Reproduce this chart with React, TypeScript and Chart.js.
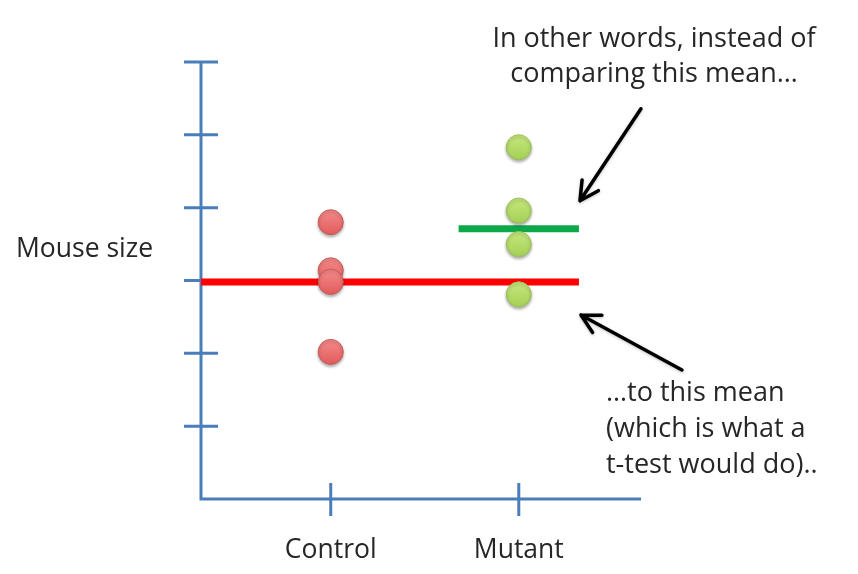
import React, { useEffect, useRef } from "react";
import { Chart, registerables } from "chart.js";

Chart.register(...registerables);

const categories = ["Control", "Mutant"];
const controlValues = [3.8, 3.14, 2.98, 2.02];
const mutantValues = [4.83, 3.96, 3.5, 2.81];
const controlMean = 2.98;
const mutantMean = 3.71;
const yTicks = [1, 2, 3, 4, 5, 6];
const yAxisTitle = "Mouse size";
const topNote = ["In other words, instead of", "comparing this mean…"];
const bottomNote = ["…to this mean", "(which is what a", "t-test would do).."];

const X_MIN = 0.31;
const X_MAX = 2.65;
const MEAN_HALF = 0.32;
const AXIS_COLOR = "#4a7ebb";
const TEXT_COLOR = "#262626";
const FONT = "'Open Sans', sans-serif";

function drawArrow(ctx: CanvasRenderingContext2D, x1: number, y1: number, x2: number, y2: number) {
  const ang = Math.atan2(y2 - y1, x2 - x1);
  const head = 21;
  const spread = Math.PI / 6.5;
  ctx.save();
  ctx.strokeStyle = "#000";
  ctx.lineWidth = 3.5;
  ctx.lineCap = "round";
  ctx.lineJoin = "round";
  ctx.shadowColor = "rgba(0,0,0,0.25)";
  ctx.shadowBlur = 3;
  ctx.shadowOffsetY = 1;
  ctx.beginPath();
  ctx.moveTo(x1, y1);
  ctx.lineTo(x2, y2);
  ctx.moveTo(x2 - head * Math.cos(ang - spread), y2 - head * Math.sin(ang - spread));
  ctx.lineTo(x2, y2);
  ctx.lineTo(x2 - head * Math.cos(ang + spread), y2 - head * Math.sin(ang + spread));
  ctx.stroke();
  ctx.restore();
}

function pointFill(top: string, bottom: string) {
  return (c: any) => {
    const el = c.element;
    const ctx = c.chart.ctx as CanvasRenderingContext2D;
    if (!el || el.y == null || isNaN(el.y)) return bottom;
    const g = ctx.createLinearGradient(0, el.y - 12, 0, el.y + 12);
    g.addColorStop(0, top);
    g.addColorStop(1, bottom);
    return g;
  };
}

const decorPlugin = {
  id: "decor",
  beforeDatasetsDraw(chart: any) {
    const { ctx, scales } = chart;
    const xs = scales.x;
    const ys = scales.y;
    const x0 = xs.getPixelForValue(X_MIN);
    const x1 = xs.getPixelForValue(X_MAX);
    const yb = ys.getPixelForValue(0);
    const yt = ys.getPixelForValue(yTicks[yTicks.length - 1]);
    ctx.save();
    ctx.strokeStyle = AXIS_COLOR;
    ctx.lineWidth = 3;
    ctx.lineCap = "butt";
    ctx.beginPath();
    ctx.moveTo(x0, yt);
    ctx.lineTo(x0, yb);
    ctx.lineTo(x1, yb);
    yTicks.forEach((t) => {
      const y = ys.getPixelForValue(t);
      ctx.moveTo(x0 - 17, y);
      ctx.lineTo(x0 + 17, y);
    });
    categories.forEach((_, i) => {
      const x = xs.getPixelForValue(i + 1);
      ctx.moveTo(x, yb - 16);
      ctx.lineTo(x, yb + 17);
    });
    ctx.stroke();

    ctx.fillStyle = TEXT_COLOR;
    ctx.font = `26.5px ${FONT}`;
    ctx.textBaseline = "alphabetic";
    ctx.textAlign = "center";
    categories.forEach((c, i) => {
      ctx.fillText(c, xs.getPixelForValue(i + 1), yb + 59);
    });
    ctx.textAlign = "left";
    ctx.fillText(yAxisTitle, 16, 257);
    ctx.restore();
  },
  beforeDatasetDraw(chart: any, args: any) {
    const ds = chart.data.datasets[args.index];
    if (ds.isPoints) {
      chart.ctx.save();
      chart.ctx.shadowColor = "rgba(0,0,0,0.3)";
      chart.ctx.shadowBlur = 3;
      chart.ctx.shadowOffsetY = 2;
    }
  },
  afterDatasetDraw(chart: any, args: any) {
    const ds = chart.data.datasets[args.index];
    if (ds.isPoints) chart.ctx.restore();
  },
  afterDatasetsDraw(chart: any) {
    const { ctx, scales } = chart;
    const xs = scales.x;
    const ys = scales.y;
    const xEnd = xs.getPixelForValue(2 + MEAN_HALF);
    const yGreen = ys.getPixelForValue(mutantMean);
    const yRed = ys.getPixelForValue(controlMean);
    const tip1x = xEnd + 1;
    const tip1y = yGreen - 28;
    drawArrow(ctx, tip1x + 61, tip1y - 92, tip1x, tip1y);
    const tip2x = xEnd + 2;
    const tip2y = yRed + 33;
    drawArrow(ctx, tip2x + 101, tip2y + 55, tip2x, tip2y);

    ctx.save();
    ctx.fillStyle = TEXT_COLOR;
    ctx.font = `27px ${FONT}`;
    ctx.textBaseline = "alphabetic";
    ctx.textAlign = "center";
    topNote.forEach((l, i) => ctx.fillText(l, 654, 47 + i * 35));
    ctx.textAlign = "left";
    bottomNote.forEach((l, i) => ctx.fillText(l, 606, 401 + i * 36));
    ctx.restore();
  },
};

export default function App() {
  const ref = useRef<HTMLCanvasElement | null>(null);
  useEffect(() => {
    document.body.style.margin = "0";
    const canvas = ref.current;
    if (!canvas) return;
    const chart = new Chart(canvas, {
      type: "scatter",
      data: {
        datasets: [
          {
            label: "Control mean",
            data: [
              { x: X_MIN, y: controlMean },
              { x: 2 + MEAN_HALF, y: controlMean },
            ],
            showLine: true,
            borderColor: "#ff0000",
            borderWidth: 7,
            pointRadius: 0,
            order: 3,
          },
          {
            label: "Mutant mean",
            data: [
              { x: 2 - MEAN_HALF, y: mutantMean },
              { x: 2 + MEAN_HALF, y: mutantMean },
            ],
            showLine: true,
            borderColor: "#0ea84a",
            borderWidth: 7,
            pointRadius: 0,
            order: 3,
          },
          {
            label: categories[0],
            isPoints: true,
            data: controlValues.map((v) => ({ x: 1, y: v })),
            backgroundColor: pointFill("#f58a8a", "#e25c5c"),
            borderColor: "#c95a5a",
            borderWidth: 1,
            pointRadius: 12.5,
            order: 1,
          } as any,
          {
            label: categories[1],
            isPoints: true,
            data: mutantValues.map((v) => ({ x: 2, y: v })),
            backgroundColor: pointFill("#c6e77e", "#a5d057"),
            borderColor: "#9cc05a",
            borderWidth: 1,
            pointRadius: 12.5,
            order: 1,
          } as any,
        ],
      },
      options: {
        animation: false,
        responsive: false,
        layout: { padding: { left: 201, right: 217, top: 62, bottom: 75 } },
        plugins: { legend: { display: false }, tooltip: { enabled: false } },
        scales: {
          x: { type: "linear", min: X_MIN, max: X_MAX, display: false },
          y: { type: "linear", min: 0, max: 6, display: false },
        },
        clip: false as any,
      },
      plugins: [decorPlugin],
    });
    return () => chart.destroy();
  }, []);
  return (
    <div style={{ position: "absolute", left: 0, top: 0, width: 858, height: 574, background: "#fff" }}>
      <canvas ref={ref} width={858} height={574} style={{ width: 858, height: 574 }} />
    </div>
  );
}
